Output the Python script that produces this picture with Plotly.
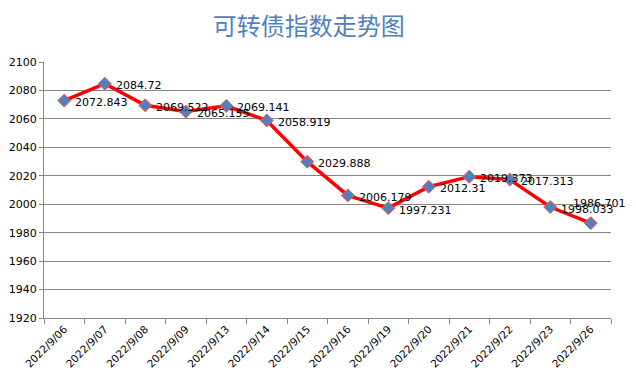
import plotly.graph_objects as go

dates = ["2022/9/06", "2022/9/07", "2022/9/08", "2022/9/09", "2022/9/13", "2022/9/14",
         "2022/9/15", "2022/9/16", "2022/9/19", "2022/9/20", "2022/9/21", "2022/9/22",
         "2022/9/23", "2022/9/26"]
values = [2072.843, 2084.72, 2069.522, 2065.155, 2069.141, 2058.919, 2029.888,
          2006.179, 1997.231, 2012.31, 2019.373, 2017.313, 1998.033, 1986.701]
labels = ["2072.843", "2084.72", "2069.522", "2065.155", "2069.141", "2058.919", "2029.888",
          "2006.179", "1997.231", "2012.31", "2019.373", "2017.313", "1998.033", "1986.701"]

fig = go.Figure()
fig.add_trace(go.Scatter(
    x=dates, y=values, mode="lines+markers",
    line=dict(color="#FF0000", width=3.5),
    marker=dict(symbol="diamond", size=10, color="#4F81BD",
                line=dict(color="#FF5050", width=1)),
    showlegend=False, hoverinfo="x+y",
))

annotations = []
for i, (d, v, t) in enumerate(zip(dates, values, labels)):
    last = i == len(dates) - 1
    annotations.append(dict(
        x=d, y=v, text=t, showarrow=False, xref="x", yref="y",
        xanchor="left", yanchor="middle",
        xshift=-20 if last else 9, yshift=20 if last else -2,
        font=dict(family="DejaVu Sans", size=11, color="#000000"),
    ))

# the page body has an 8px default margin, so the figure is 628x380 placed at (8, 8)
fig.update_layout(
    width=628, height=380,
    paper_bgcolor="white", plot_bgcolor="white",
    margin=dict(l=36, r=25, t=54, b=70),
    title=dict(text="可转债指数走势图", x=0.479, xanchor="center", y=0.95, yanchor="middle",
               xref="container", yref="container",
               font=dict(family="Noto Sans CJK SC", size=24, color="#4F81BD")),
    annotations=annotations,
    font=dict(family="DejaVu Sans", size=11, color="#000000"),
)
fig.update_xaxes(
    type="category", range=[-0.5, len(dates) - 0.5], tickangle=-45, tickson="boundaries",
    automargin=False,
    ticks="outside", ticklen=5, tickcolor="#868686",
    showline=True, linecolor="#868686", linewidth=1,
    showgrid=False, tickfont=dict(family="DejaVu Sans", size=10.5, color="#000000"),
)
fig.update_yaxes(
    range=[1920, 2100], dtick=20, tick0=1920, automargin=False,
    ticks="outside", ticklen=4, tickcolor="#868686",
    showline=True, linecolor="#868686", linewidth=1,
    showgrid=True, gridcolor="#868686", gridwidth=1, zeroline=False,
    tickfont=dict(family="DejaVu Sans", size=11, color="#000000"),
)

fig.write_html("out.html")
